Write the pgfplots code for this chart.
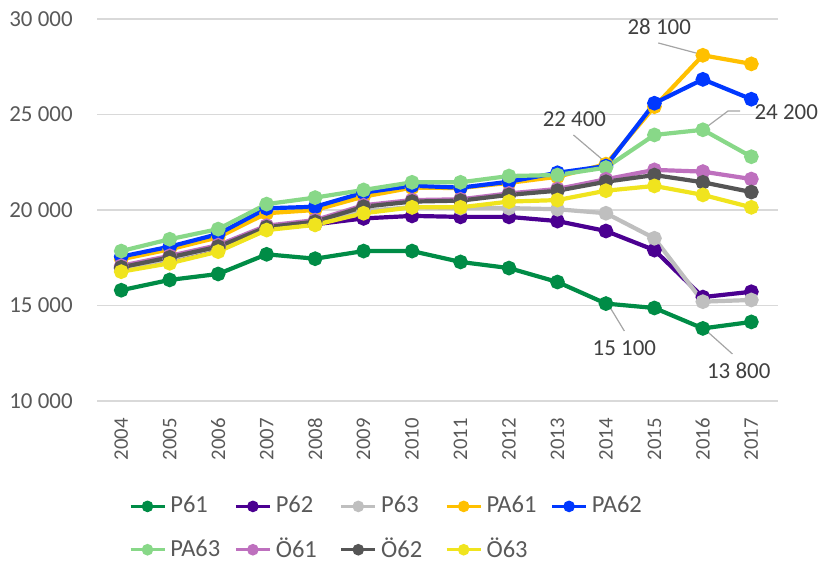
\documentclass[border=0pt]{standalone}
\usepackage{pgfplots}
\pgfplotsset{compat=1.18}
\usepackage{pgfplotstable}
\usepackage{fontspec}
\setmainfont{Carlito}
\definecolor{cP61}{RGB}{0,140,70}
\definecolor{cP62}{RGB}{75,0,145}
\definecolor{cP63}{RGB}{191,191,191}
\definecolor{cPA61}{RGB}{255,192,0}
\definecolor{cPA62}{RGB}{0,56,255}
\definecolor{cPA63}{RGB}{136,216,136}
\definecolor{cO61}{RGB}{190,112,190}
\definecolor{cO62}{RGB}{85,85,85}
\definecolor{cO63}{RGB}{240,228,30}
\definecolor{gridc}{RGB}{217,217,217}
\definecolor{tickc}{RGB}{89,89,89}
\definecolor{annc}{RGB}{64,64,64}
\definecolor{leadc}{RGB}{165,165,165}
\pgfplotstableread{
year P61 P62 P63 PA61 PA62 PA63 O61 O62 O63
2004 15800 16950 16950 17420 17560 17850 17080 17000 16770
2005 16340 17450 17450 17940 18080 18470 17600 17520 17210
2006 16650 18020 18050 18570 18740 19000 18160 18080 17820
2007 17680 19020 19050 19830 20090 20310 19180 19100 18950
2008 17450 19250 19300 20000 20170 20650 19470 19390 19220
2009 17850 19560 19950 20700 20910 21050 20250 20170 19830
2010 17850 19690 20150 21170 21270 21450 20520 20440 20140
2011 17280 19640 20100 21150 21170 21450 20560 20490 20140
2012 16960 19640 20100 21420 21480 21780 20870 20790 20440
2013 16230 19420 20040 21740 21950 21830 21100 21010 20520
2014 15100 18900 19830 22400 22300 22220 21610 21480 21010
2015 14870 17900 18520 25410 25590 23930 22100 21830 21260
2016 13800 15440 15200 28100 26840 24200 22010 21450 20790
2017 14140 15720 15290 27650 25800 22790 21620 20940 20140
}\datatable
\begin{document}
\fontsize{11.5}{13.8}\selectfont
\begin{tikzpicture}
\useasboundingbox (-48.5bp,-80bp) rectangle (361.5bp,200.5bp);
\begin{axis}[
  at={(0,0)}, anchor=south west,
  scale only axis, width=340.5bp, height=191bp,
  xmin=2003.5, xmax=2017.55,
  ymin=10000, ymax=30000,
  scaled x ticks=false, scaled y ticks=false,
  axis line style={draw=none},
  tick style={draw=none},
  ymajorgrids, grid style={gridc, line width=0.6bp},
  xtick={2004,...,2017},
  ytick={10000,15000,20000,25000,30000},
  yticklabels={10 000,15 000,20 000,25 000,30 000},
  /pgf/number format/assume math mode=true,
  x tick label style={/pgf/number format/1000 sep={}, rotate=90, anchor=east, inner sep=0pt, font=\fontsize{10.4}{12}\selectfont, color=tickc},
  xticklabel shift=8.5bp,
  y tick label style={color=tickc, inner sep=0pt},
  yticklabel shift=12bp,
  clip=false,
  legend style={draw=none, fill=none, at={(16bp,-45.5bp)}, anchor=north west,
    legend columns=5, font=\fontsize{12.3}{14.5}\selectfont, text=tickc,
    /tikz/every even column/.append style={column sep=0bp},
    row sep=6.5bp, inner sep=0pt, outer sep=0pt, nodes={inner sep=2.2bp}},
  legend cell align=left,
  legend image code/.code={
    \draw[#1, line width=1.5bp] (0bp,0bp) -- (17bp,0bp);
    \fill[#1] (8.5bp,0bp) circle (1.8bp);
  },
  every axis plot/.append style={line width=2.1bp, mark=*, mark size=2.6bp},
]
\addplot[color=cP61, mark options={fill=cP61}] table[x=year,y=P61]{\datatable};
\addlegendentry{\makebox[29.8bp][l]{P61}}
\addplot[color=cP62, mark options={fill=cP62}] table[x=year,y=P62]{\datatable};
\addlegendentry{\makebox[29.8bp][l]{P62}}
\addplot[color=cP63, mark options={fill=cP63}] table[x=year,y=P63]{\datatable};
\addlegendentry{\makebox[29.8bp][l]{P63}}
\addplot[color=cPA61, mark options={fill=cPA61}] table[x=year,y=PA61]{\datatable};
\addlegendentry{\makebox[29.8bp][l]{PA61}}
\addplot[color=cPA62, mark options={fill=cPA62}] table[x=year,y=PA62]{\datatable};
\addlegendentry{\makebox[29.8bp][l]{PA62}}
\addplot[color=cPA63, mark options={fill=cPA63}] table[x=year,y=PA63]{\datatable};
\addlegendentry{\makebox[29.8bp][l]{PA63}}
\addplot[color=cO61, mark options={fill=cO61}] table[x=year,y=O61]{\datatable};
\addlegendentry{\makebox[29.8bp][l]{Ö61}}
\addplot[color=cO62, mark options={fill=cO62}] table[x=year,y=O62]{\datatable};
\addlegendentry{\makebox[29.8bp][l]{Ö62}}
\addplot[color=cO63, mark options={fill=cO63}] table[x=year,y=O63]{\datatable};
\addlegendentry{\makebox[29.8bp][l]{Ö63}}
% annotations
\draw[leadc, line width=0.6bp] (axis cs:2015.08,28745) -- (axis cs:2016.01,28117);
\node[annc] at (axis cs:2015.10,29583) {28 100};
\draw[leadc, line width=0.6bp] (axis cs:2013.33,23928) -- (axis cs:2014.01,22462);
\node[annc] at (axis cs:2013.35,24766) {22 400};
\draw[leadc, line width=0.6bp] (axis cs:2016.77,25185) -- (axis cs:2016.52,25185) -- (axis cs:2016.05,24294);
\node[annc] at (axis cs:2017.72,25132) {24 200};
\draw[leadc, line width=0.6bp] (axis cs:2014.03,15131) -- (axis cs:2014.38,13665);
\node[annc] at (axis cs:2014.38,12775) {15 100};
\draw[leadc, line width=0.6bp] (axis cs:2016.01,13822) -- (axis cs:2016.61,12461);
\node[annc] at (axis cs:2016.74,11571) {13 800};
\end{axis}
\end{tikzpicture}
\end{document}
